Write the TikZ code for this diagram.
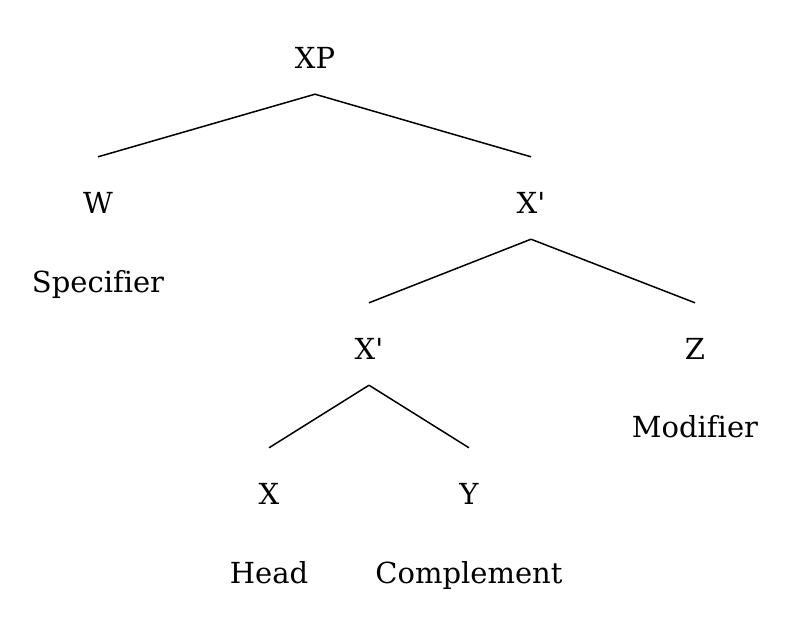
\documentclass[tikz,border=0pt]{standalone}
\usepackage{fontspec}
\setmainfont[Ligatures={NoCommon}]{DejaVu Serif}
\usepackage{tikz}
\usetikzlibrary{positioning}

\begin{document}
\begin{tikzpicture}[
  x=1pt, y=-1pt,
  cat/.style={font=\fontsize{29}{34}\selectfont, inner sep=0pt, text height=56pt,
              text depth=26pt, anchor=base},
  role/.style={font=\fontsize{29}{34}\selectfont, inner sep=0pt, anchor=base},
  branch/.style={line width=1.5pt}
]
  \useasboundingbox (0,0) rectangle (792,619);

  % Categories
  \node[cat] (xp) at (315, 68) {XP};
  \node[cat] (w) at (98, 213) {W};
  \node[cat] (xbar) at (531, 213) {X\textquotesingle};
  \node[cat] (xbarlow) at (369, 359) {X\textquotesingle};
  \node[cat] (z) at (695, 359) {Z};
  \node[cat] (x) at (269, 504) {X};
  \node[cat] (y) at (469, 504) {Y};

  % Roles
  \node[role] (spec) at (98, 292) {Specifier};
  \node[role] (mod) at (695, 437) {Modifier};
  \node[role] (head) at (269, 583) {Head};
  \node[role] (comp) at (469, 583) {Complement};

  % Branches
  \draw[branch] (xp.south) -- (w.north);
  \draw[branch] (xp.south) -- (xbar.north);
  \draw[branch] (xbar.south) -- (xbarlow.north);
  \draw[branch] (xbar.south) -- (z.north);
  \draw[branch] (xbarlow.south) -- (x.north);
  \draw[branch] (xbarlow.south) -- (y.north);
\end{tikzpicture}
\end{document}
